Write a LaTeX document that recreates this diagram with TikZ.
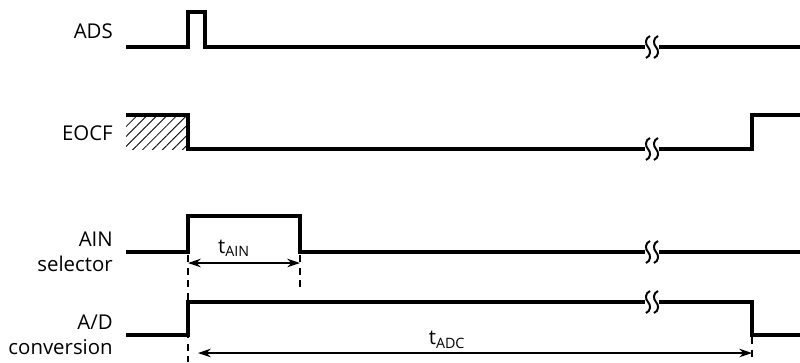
\documentclass[tikz,border=0pt]{standalone}
\usepackage{fontspec}
\setmainfont{Open Sans}
\usetikzlibrary{arrows.meta,patterns.meta}

\begin{document}
\begin{tikzpicture}[x=0.025cm, y=-0.025cm,
  sig/.style={line width=2.8pt, line join=miter},
  lab/.style={font=\fontsize{14.5}{17.5}\selectfont, align=right,
              anchor=east, inner sep=0pt},
  tlab/.style={font=\fontsize{14.5}{16}\selectfont, inner sep=0pt},
  dim/.style={line width=1.2pt,
              {Stealth[length=9pt,width=6pt]}-{Stealth[length=9pt,width=6pt]}},
  guide/.style={line width=1.2pt, dash pattern=on 5pt off 4pt},
  brk/.pic={
    \fill[white] (-7,-3) rectangle (7,3);
    \draw[line width=1.4pt] (-2,-11) .. controls (-7,-9) and (-7,-3) .. (-4,0)
                         .. controls (-1,3) and (-1,9) .. (-6,11);
    \draw[line width=1.4pt] (6,-11) .. controls (1,-9) and (1,-3) .. (4,0)
                         .. controls (7,3) and (7,9) .. (2,11);
  }]
  \useasboundingbox (0,0) rectangle (800,362);
  % signal names
  \node[lab] (ads) at (113,31) {ADS};
  \node[lab] (eocf) at (113,133) {EOCF};
  \node[lab] (ainsel) at (113,252) {AIN\\selector};
  \node[lab] (adconv) at (113,335) {A/D\\conversion};
  % waveforms
  \draw[sig] (126,47) -- (188,47) -- (188,12) -- (205,12) -- (205,47) -- (800,47);
  \fill[pattern={Lines[angle=45,distance=5pt,line width=0.6pt]}] (126,115) rectangle (188,149);
  \draw[sig] (126,115) -- (188,115) -- (188,149) -- (752,149) -- (752,115) -- (800,115);
  \draw[sig] (126,252) -- (188,252) -- (188,216) -- (300,216) -- (300,252) -- (800,252);
  \draw[sig] (126,335) -- (188,335) -- (188,302) -- (752,302) -- (752,335) -- (800,335);
  % breaks
  \pic at (652,47) {brk};
  \pic at (652,149) {brk};
  \pic at (652,252) {brk};
  \pic at (652,302) {brk};
  % timing
  \coordinate (ainon) at (188,263);
  \coordinate (ainoff) at (300,263);
  \coordinate (adcon) at (198,353);
  \coordinate (adcoff) at (752,353);
  \draw[guide] (188,255) -- (188,362);
  \draw[guide] (300,255) -- (300,289);
  \draw[guide] (752,337) -- (752,362);
  \draw[dim] (ainon) -- (ainoff);
  \draw[dim] (adcon) -- (adcoff);
  \node[tlab] (tain) at (234,248) {t\textsubscript{AIN}};
  \node[tlab] (tadc) at (447,340) {t\textsubscript{ADC}};
\end{tikzpicture}
\end{document}
